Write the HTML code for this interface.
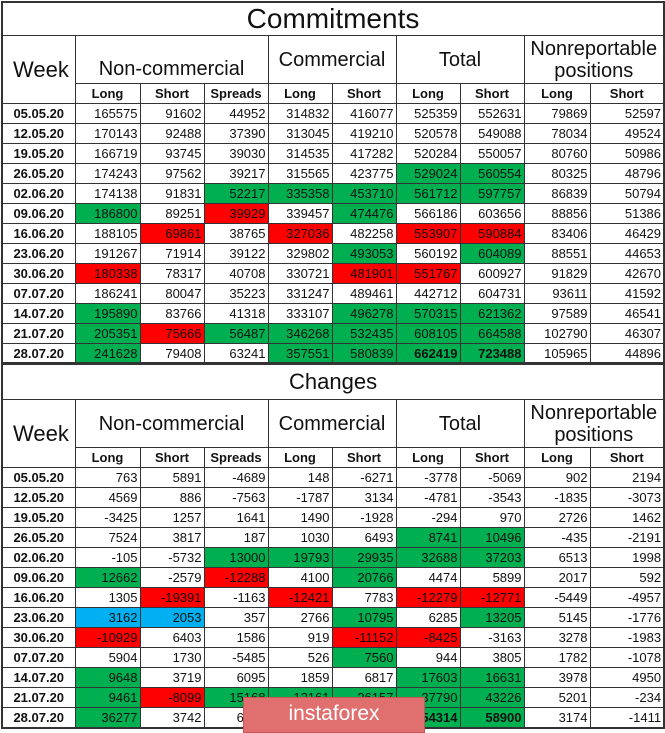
<!DOCTYPE html>
<html><head><meta charset="utf-8">
<style>
body{margin:0;background:#fff;width:665px;height:729px;overflow:hidden;position:relative;font-family:"Liberation Sans",sans-serif;color:#111}
table{border-collapse:collapse;table-layout:fixed;position:absolute;left:1px;width:662px}
td{border:1px solid #333;padding:0 2px 0 0;font-size:13px;text-align:right;height:19px;line-height:19px;overflow:hidden;white-space:nowrap}
td.d{font-weight:bold;text-align:center;padding:0}
.sub td{font-weight:bold;text-align:center;padding:0;height:19px}
.g{background:#00b050}.r{background:#ff0000}.b{background:#00b0f0}
.t td{text-align:center;font-size:28px;height:32px;line-height:32px;padding:0}
.grp td{text-align:center;font-size:20px;height:47px;line-height:22px;padding:0}
.wk{font-size:22px!important;text-align:left!important;padding-left:10px!important}
#t1{top:1px;border:2px solid #333}
#t2{top:362px;border:2px solid #333}
#wm{position:absolute;left:243px;top:697px;width:180px;height:34px;background:#e07070;color:#fff;font-size:21px;text-align:center;line-height:32px;border:1px solid #c55}
</style></head><body>
<table id="t1">
<colgroup><col style="width:73px"><col style="width:65px"><col style="width:64px"><col style="width:64px"><col style="width:64px"><col style="width:64px"><col style="width:64px"><col style="width:64px"><col style="width:66px"><col style="width:74px"></colgroup>
<tr class="t"><td colspan="10">Commitments</td></tr>
<tr class="grp"><td rowspan="2" class="wk">Week</td><td colspan="3" style="padding-top:18px;height:29px">Non-commercial</td><td colspan="2">Commercial</td><td colspan="2">Total</td><td colspan="2">Nonreportable<br>positions</td></tr>
<tr class="sub"><td>Long</td><td>Short</td><td>Spreads</td><td>Long</td><td>Short</td><td>Long</td><td>Short</td><td>Long</td><td>Short</td></tr>
<tr><td class="d">05.05.20</td><td>165575</td><td>91602</td><td>44952</td><td>314832</td><td>416077</td><td>525359</td><td>552631</td><td>79869</td><td>52597</td></tr>
<tr><td class="d">12.05.20</td><td>170143</td><td>92488</td><td>37390</td><td>313045</td><td>419210</td><td>520578</td><td>549088</td><td>78034</td><td>49524</td></tr>
<tr><td class="d">19.05.20</td><td>166719</td><td>93745</td><td>39030</td><td>314535</td><td>417282</td><td>520284</td><td>550057</td><td>80760</td><td>50986</td></tr>
<tr><td class="d">26.05.20</td><td>174243</td><td>97562</td><td>39217</td><td>315565</td><td>423775</td><td class="g">529024</td><td class="g">560554</td><td>80325</td><td>48796</td></tr>
<tr><td class="d">02.06.20</td><td>174138</td><td>91831</td><td class="g">52217</td><td class="g">335358</td><td class="g">453710</td><td class="g">561712</td><td class="g">597757</td><td>86839</td><td>50794</td></tr>
<tr><td class="d">09.06.20</td><td class="g">186800</td><td>89251</td><td class="r">39929</td><td>339457</td><td class="g">474476</td><td>566186</td><td>603656</td><td>88856</td><td>51386</td></tr>
<tr><td class="d">16.06.20</td><td>188105</td><td class="r">69861</td><td>38765</td><td class="r">327036</td><td>482258</td><td class="r">553907</td><td class="r">590884</td><td>83406</td><td>46429</td></tr>
<tr><td class="d">23.06.20</td><td>191267</td><td>71914</td><td>39122</td><td>329802</td><td class="g">493053</td><td>560192</td><td class="g">604089</td><td>88551</td><td>44653</td></tr>
<tr><td class="d">30.06.20</td><td class="r">180338</td><td>78317</td><td>40708</td><td>330721</td><td class="r">481901</td><td class="r">551767</td><td>600927</td><td>91829</td><td>42670</td></tr>
<tr><td class="d">07.07.20</td><td>186241</td><td>80047</td><td>35223</td><td>331247</td><td>489461</td><td>442712</td><td>604731</td><td>93611</td><td>41592</td></tr>
<tr><td class="d">14.07.20</td><td class="g">195890</td><td>83766</td><td>41318</td><td>333107</td><td class="g">496278</td><td class="g">570315</td><td class="g">621362</td><td>97589</td><td>46541</td></tr>
<tr><td class="d">21.07.20</td><td class="g">205351</td><td class="r">75666</td><td class="g">56487</td><td class="g">346268</td><td class="g">532435</td><td class="g">608105</td><td class="g">664588</td><td>102790</td><td>46307</td></tr>
<tr><td class="d">28.07.20</td><td class="g">241628</td><td>79408</td><td>63241</td><td class="g">357551</td><td class="g">580839</td><td class="g"><b>662419</b></td><td class="g"><b>723488</b></td><td>105965</td><td>44896</td></tr>
</table>
<table id="t2">
<colgroup><col style="width:73px"><col style="width:65px"><col style="width:64px"><col style="width:64px"><col style="width:64px"><col style="width:64px"><col style="width:64px"><col style="width:64px"><col style="width:66px"><col style="width:74px"></colgroup>
<tr class="t"><td colspan="10" style="font-size:22px;height:35px">Changes</td></tr>
<tr class="grp"><td rowspan="2" class="wk">Week</td><td colspan="3">Non-commercial</td><td colspan="2">Commercial</td><td colspan="2">Total</td><td colspan="2">Nonreportable<br>positions</td></tr>
<tr class="sub"><td>Long</td><td>Short</td><td>Spreads</td><td>Long</td><td>Short</td><td>Long</td><td>Short</td><td>Long</td><td>Short</td></tr>
<tr><td class="d">05.05.20</td><td>763</td><td>5891</td><td>-4689</td><td>148</td><td>-6271</td><td>-3778</td><td>-5069</td><td>902</td><td>2194</td></tr>
<tr><td class="d">12.05.20</td><td>4569</td><td>886</td><td>-7563</td><td>-1787</td><td>3134</td><td>-4781</td><td>-3543</td><td>-1835</td><td>-3073</td></tr>
<tr><td class="d">19.05.20</td><td>-3425</td><td>1257</td><td>1641</td><td>1490</td><td>-1928</td><td>-294</td><td>970</td><td>2726</td><td>1462</td></tr>
<tr><td class="d">26.05.20</td><td>7524</td><td>3817</td><td>187</td><td>1030</td><td>6493</td><td class="g">8741</td><td class="g">10496</td><td>-435</td><td>-2191</td></tr>
<tr><td class="d">02.06.20</td><td>-105</td><td>-5732</td><td class="g">13000</td><td class="g">19793</td><td class="g">29935</td><td class="g">32688</td><td class="g">37203</td><td>6513</td><td>1998</td></tr>
<tr><td class="d">09.06.20</td><td class="g">12662</td><td>-2579</td><td class="r">-12288</td><td>4100</td><td class="g">20766</td><td>4474</td><td>5899</td><td>2017</td><td>592</td></tr>
<tr><td class="d">16.06.20</td><td>1305</td><td class="r">-19391</td><td>-1163</td><td class="r">-12421</td><td>7783</td><td class="r">-12279</td><td class="r">-12771</td><td>-5449</td><td>-4957</td></tr>
<tr><td class="d">23.06.20</td><td class="b">3162</td><td class="b">2053</td><td>357</td><td>2766</td><td class="g">10795</td><td>6285</td><td class="g">13205</td><td>5145</td><td>-1776</td></tr>
<tr><td class="d">30.06.20</td><td class="r">-10929</td><td>6403</td><td>1586</td><td>919</td><td class="r">-11152</td><td class="r">-8425</td><td>-3163</td><td>3278</td><td>-1983</td></tr>
<tr><td class="d">07.07.20</td><td>5904</td><td>1730</td><td>-5485</td><td>526</td><td class="g">7560</td><td>944</td><td>3805</td><td>1782</td><td>-1078</td></tr>
<tr><td class="d">14.07.20</td><td class="g">9648</td><td>3719</td><td>6095</td><td>1859</td><td>6817</td><td class="g">17603</td><td class="g">16631</td><td>3978</td><td>4950</td></tr>
<tr><td class="d">21.07.20</td><td class="g">9461</td><td class="r">-8099</td><td class="g">15168</td><td class="g">12161</td><td class="g">26157</td><td class="g">37790</td><td class="g">43226</td><td>5201</td><td>-234</td></tr>
<tr><td class="d">28.07.20</td><td class="g">36277</td><td>3742</td><td>6754</td><td>11283</td><td>48404</td><td class="g"><b>54314</b></td><td class="g"><b>58900</b></td><td>3174</td><td>-1411</td></tr>
</table>
<div id="wm">instaforex</div>
</body></html>
